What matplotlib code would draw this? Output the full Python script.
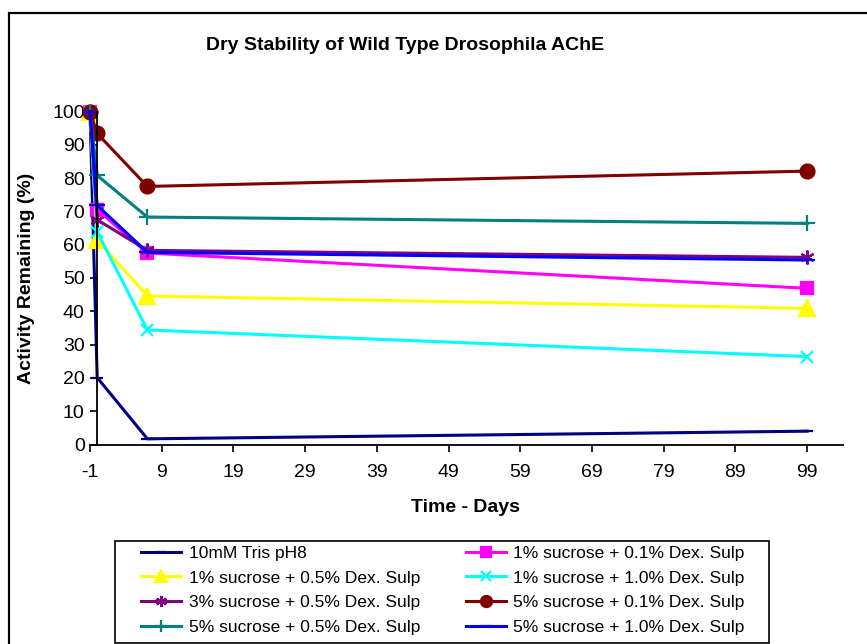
import matplotlib
matplotlib.use("Agg")
import matplotlib.pyplot as plt
import matplotlib.patches as mpatches

plt.rcParams["font.family"] = ["Liberation Sans", "DejaVu Sans"]
plt.rcParams["axes.unicode_minus"] = False

# ── Data ───────────────────────────────────────────────────
days = [-1, 0, 7, 99]

labels = [
    "10mM Tris pH8",
    "1% sucrose + 0.1% Dex. Sulp",
    "1% sucrose + 0.5% Dex. Sulp",
    "1% sucrose + 1.0% Dex. Sulp",
    "3% sucrose + 0.5% Dex. Sulp",
    "5% sucrose + 0.1% Dex. Sulp",
    "5% sucrose + 0.5% Dex. Sulp",
    "5% sucrose + 1.0% Dex. Sulp",
]

tris        = [100, 20.1, 1.7, 4.0]
suc1_dex01  = [100, 70.5, 57.5, 46.9]
suc1_dex05  = [100, 61.5, 44.6, 40.9]
suc1_dex10  = [100, 63.8, 34.4, 26.4]
suc3_dex05  = [100, 67.5, 58.3, 56.2]
suc5_dex01  = [100, 93.4, 77.5, 82.1]
suc5_dex05  = [100, 80.8, 68.3, 66.4]
suc5_dex10  = [100, 71.8, 57.7, 55.4]

series = [tris, suc1_dex01, suc1_dex05, suc1_dex10,
          suc3_dex05, suc5_dex01, suc5_dex05, suc5_dex10]

colors  = ["#000080", "#FF00FF", "#FFFF00", "#00FFFF",
           "#800080", "#800000", "#008080", "#0000FF"]
markers = ["_", "s", "^", "x", (6, 2, 0), "o", "+", "_"]
msizes  = [9, 9, 11, 9, 10, 10, 11, 11]

# ── Chart ──────────────────────────────────────────────────
fig = plt.figure(figsize=(8.67, 6.44), dpi=100)
fig.patch.set_facecolor("white")

# chart-area border (runs off the right/bottom edge in the original)
fig.patches.append(mpatches.Rectangle((9 / 867, -0.1), 2, 1 - 13 / 644 + 0.1,
                                      transform=fig.transFigure, fill=False,
                                      edgecolor="black", linewidth=1.6))
# legend frame
fig.patches.append(mpatches.Rectangle((115 / 867, 1 - 643 / 644), 654 / 867, 102 / 644,
                                      transform=fig.transFigure, fill=False,
                                      edgecolor="black", linewidth=1.2))

ax = fig.add_axes([90 / 867, 1 - 444.5 / 644, 753 / 867, 333 / 644])

lines = []
for vals, lab, c, m, ms in zip(series, labels, colors, markers, msizes):
    ln, = ax.plot(days, vals, color=c, marker=m, markersize=ms,
                  markeredgewidth=1.6, linewidth=2.2, label=lab, clip_on=False)
    lines.append(ln)

ax.set_xlim(-1, 104)
ax.set_ylim(0, 100)
ax.set_xticks(range(-1, 100, 10))
ax.set_yticks(range(0, 101, 10))

ax.spines["top"].set_visible(False)
ax.spines["right"].set_visible(False)
ax.spines["left"].set_position(("data", 0))
ax.spines["left"].set_linewidth(1.3)
ax.spines["bottom"].set_linewidth(1.3)
ax.tick_params(axis="x", direction="out", length=5, width=1.2, pad=9, labelsize=14)
ax.tick_params(axis="y", direction="out", length=5, width=1.2, pad=4, labelsize=14)

fig.text(405 / 867, 1 - 46 / 644, "Dry Stability of Wild Type Drosophila AChE",
         ha="center", va="center", fontsize=14, fontweight="bold")
fig.text(466 / 867, 1 - 507 / 644, "Time - Days",
         ha="center", va="center", fontsize=14, fontweight="bold")
fig.text(27 / 867, 1 - 278 / 644, "Activity Remaining (%)",
         ha="center", va="center", rotation=90, fontsize=14, fontweight="bold")

order = [0, 2, 4, 6, 1, 3, 5, 7]
leg = fig.legend([lines[i] for i in order], [labels[i] for i in order],
                 ncol=2, loc="upper left",
                 bbox_to_anchor=(138 / 867, 1 - 542 / 644),
                 fontsize=12.5, frameon=False, markerscale=0.8,
                 handlelength=2.3, handletextpad=0.45, borderpad=0.2,
                 labelspacing=0.56, columnspacing=2.6, borderaxespad=0)

plt.savefig("out.png", dpi=100)
